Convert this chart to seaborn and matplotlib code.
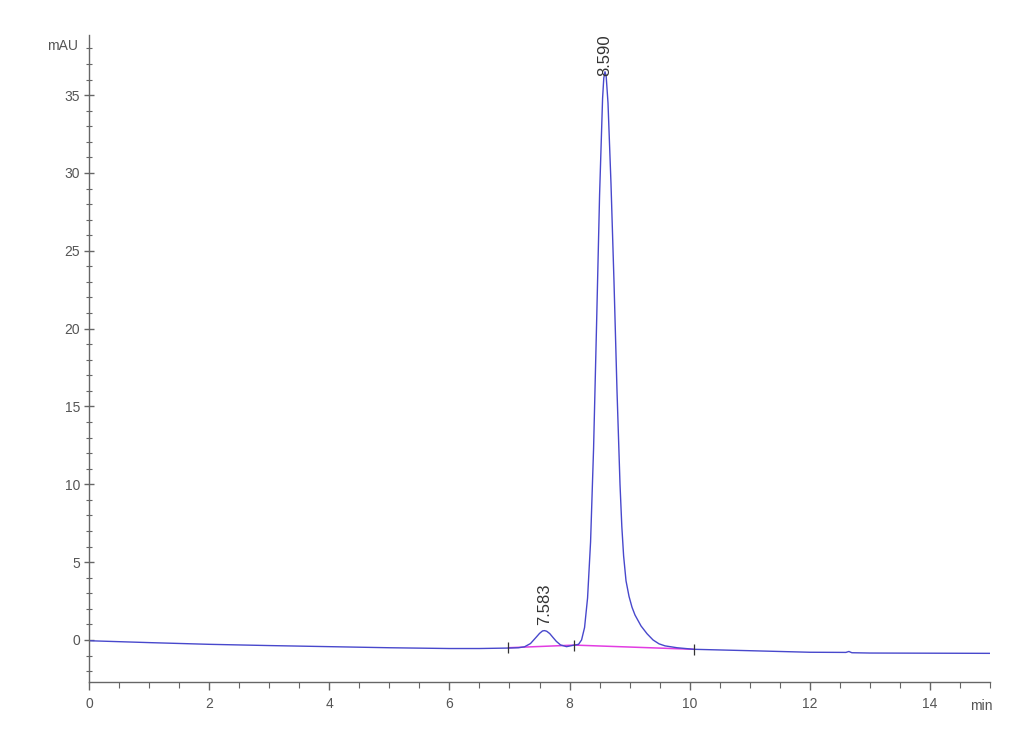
import matplotlib
matplotlib.use("Agg")
import matplotlib.pyplot as plt
from matplotlib.ticker import MultipleLocator
import numpy as np
import pandas as pd
import seaborn as sns

# chromatogram trace (retention time in min, signal in mAU)
time = [0, 1, 2, 3, 4, 5, 6, 6.5, 6.98,
        7.15, 7.25, 7.35, 7.45, 7.5, 7.55, 7.583, 7.62, 7.67, 7.72, 7.78, 7.85, 7.95,
        8.08, 8.15, 8.2, 8.25, 8.3, 8.35, 8.4, 8.45, 8.5, 8.55, 8.57, 8.59, 8.61,
        8.64, 8.69, 8.74, 8.79, 8.84, 8.87, 8.9, 8.94, 8.99, 9.04, 9.09, 9.19, 9.29,
        9.39, 9.49, 9.59, 9.79, 10.07, 11, 12, 12.6, 12.65, 12.7, 13, 14, 15]
signal = [-0.05, -0.17, -0.28, -0.36, -0.43, -0.5, -0.55, -0.55, -0.52,
          -0.5, -0.44, -0.23, 0.2, 0.42, 0.58, 0.6, 0.56, 0.41, 0.18, -0.09, -0.32, -0.43,
          -0.33, -0.28, 0.0, 0.8, 2.7, 6.3, 12.3, 20.3, 28.6, 34.8, 36.1, 36.5, 36.2,
          34.5, 29.3, 23.0, 16.0, 10.0, 7.3, 5.4, 3.8, 2.8, 2.1, 1.6, 0.9, 0.4,
          0.0, -0.25, -0.38, -0.5, -0.6, -0.69, -0.79, -0.8, -0.74, -0.82, -0.84, -0.85, -0.86]

# integration baseline (pink) and peak start/end marks
base_time = [6.98, 8.08, 10.07]
base_signal = [-0.5, -0.33, -0.6]

# peak labels
peak_rt = [7.583, 8.590]
peak_height = [0.6, 36.5]
peak_label = ["7.583", "8.590"]
label_gap = [4, -3]

df = pd.DataFrame({"time": time, "mAU": signal})
base_df = pd.DataFrame({"time": base_time, "mAU": base_signal})

sns.set_style("ticks")
plt.rcParams["font.family"] = ["Liberation Sans", "DejaVu Sans"]

text_color = "#555555"
axis_color = "#666666"

fig = plt.figure(figsize=(10.3, 7.55), dpi=100)
ax = fig.add_axes([0.0864, 0.0967, 0.8748, 0.8569])

sns.lineplot(data=base_df, x="time", y="mAU", color="#e23de2", lw=1.1, ax=ax)
sns.lineplot(data=df, x="time", y="mAU", color="#4848cc", lw=1.0, ax=ax)

# peak start/end tick marks
ax.vlines(base_time, [b - 0.35 for b in base_signal], [b + 0.35 for b in base_signal],
          color="#333333", lw=0.9)

for rt, h, lab, gap in zip(peak_rt, peak_height, peak_label, label_gap):
    ax.annotate(lab, (rt, h), xytext=(0, gap), textcoords="offset points",
                rotation=90, ha="center", va="bottom", fontsize=12, color="#333333")

ax.set_xlim(0, 15)
ax.set_ylim(-2.7, 38.86)
ax.xaxis.set_major_locator(MultipleLocator(2))
ax.xaxis.set_minor_locator(MultipleLocator(0.5))
ax.yaxis.set_major_locator(MultipleLocator(5))
ax.yaxis.set_minor_locator(MultipleLocator(1))
ax.set_xlabel("")
ax.set_ylabel("")

sns.despine(ax=ax)
for s in ["left", "bottom"]:
    ax.spines[s].set_color(axis_color)
    ax.spines[s].set_linewidth(1.0)

ax.tick_params(axis="x", which="major", length=6, width=1, color=axis_color,
               labelsize=10, labelcolor=text_color, pad=5)
ax.tick_params(axis="x", which="minor", length=4, width=0.8, color=axis_color)
ax.tick_params(axis="y", which="major", length=7, width=1, color=axis_color, direction="inout",
               labelsize=10, labelcolor=text_color, pad=3)
ax.tick_params(axis="y", which="minor", length=5, width=0.8, color=axis_color, direction="inout")

ax.text(-0.012, 0.983, "mAU", transform=ax.transAxes, ha="right", va="center",
        fontsize=10, color=text_color)
ax.text(0.99, -0.027, "min", transform=ax.transAxes, ha="center", va="top",
        fontsize=10, color=text_color)

fig.savefig("out.png", dpi=100, facecolor="white")
